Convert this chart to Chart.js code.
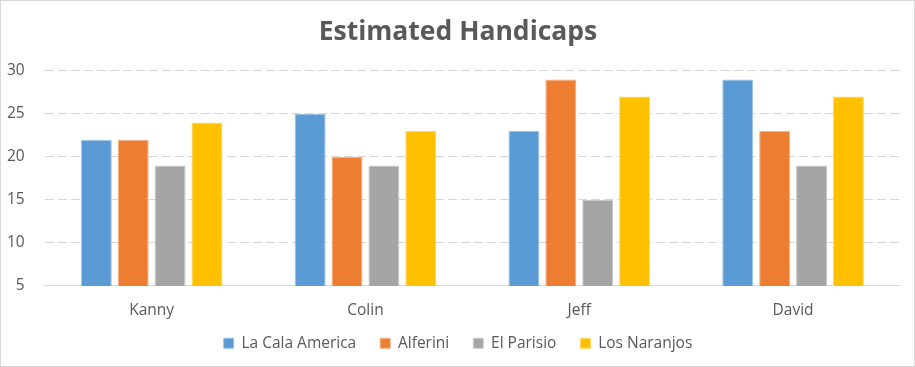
<!DOCTYPE html>
<html>
<head>
<meta charset="utf-8">
<script src="https://cdn.jsdelivr.net/npm/chart.js@4/dist/chart.umd.min.js"></script>
<style>
  html, body { margin: 0; padding: 0; background: #fff; }
  #wrap { width: 915px; height: 367px; box-sizing: border-box; border: 1px solid #d9d9d9; position: relative; }
  #chart { display: block; }
</style>
</head>
<body>
<div id="wrap"><canvas id="chart" width="913" height="365"></canvas></div>
<script>
// Players and courses
var players = ['Kanny', 'Colin', 'Jeff', 'David'];
var courses = ['La Cala America', 'Alferini', 'El Parisio', 'Los Naranjos'];

// Handicap per course
var laCala = [22, 25, 23, 29];
var alferini = [22, 20, 29, 23];
var elParisio = [19, 19, 15, 19];
var losNaranjos = [24, 23, 27, 27];

// Y axis ticks
var yMin = 5;
var yMax = 30;
var yStep = 5;

var colors = ['#5b9bd5', '#ed7d31', '#a5a5a5', '#ffc000'];
var borders = ['#9dc3e6', '#f4b183', '#c9c9c9', '#ffd966'];
var textColor = '#595959';

function makeSet(i, values){
  return {
    label: courses[i],
    data: values,
    backgroundColor: colors[i],
    borderColor: borders[i],
    borderWidth: 1,
    categoryPercentage: 0.69,
    barPercentage: 0.84
  };
}

// Shrinks an axis box without clipping its tick labels
function squeeze(axis, w, h){
  axis.width -= w;
  axis.height -= h;
  axis._computeLabelArea = function(){ return null; };
}

new Chart(document.getElementById('chart'), {
  type: 'bar',
  data: {
    labels: players,
    datasets: [
      makeSet(0, laCala),
      makeSet(1, alferini),
      makeSet(2, elParisio),
      makeSet(3, losNaranjos)
    ]
  },
  options: {
    responsive: false,
    animation: false,
    layout: { padding: { left: 15, right: 14, top: 6, bottom: 5 } },
    plugins: {
      title: {
        display: true,
        text: 'Estimated Handicaps',
        color: textColor,
        font: { family: 'Open Sans', size: 26.5, weight: 'bold' },
        padding: { top: 10, bottom: 22 }
      },
      legend: {
        position: 'bottom',
        labels: {
          color: textColor,
          font: { family: 'Open Sans', size: 15.5 },
          boxWidth: 10,
          boxHeight: 10,
          padding: 24
        }
      },
      tooltip: { enabled: false }
    },
    scales: {
      x: {
        grid: { display: false },
        border: { display: true, color: '#d9d9d9' },
        ticks: { color: textColor, font: { family: 'Open Sans', size: 15.5 }, padding: 7 },
        afterFit: function(axis){ squeeze(axis, 0, 15); }
      },
      y: {
        min: yMin,
        max: yMax,
        ticks: { stepSize: yStep, color: textColor, font: { family: 'Open Sans', size: 15.5 }, padding: 20 },
        grid: { color: '#d6d6d6', drawTicks: false },
        border: { display: false, dash: [9, 4] },
        afterFit: function(axis){ squeeze(axis, 29, 0); }
      }
    }
  }
});
</script>
</body>
</html>
